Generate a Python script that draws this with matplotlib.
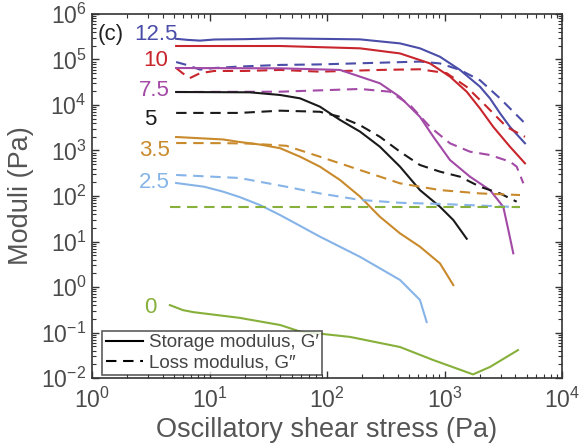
import matplotlib
matplotlib.use("Agg")
import matplotlib.pyplot as plt
from matplotlib.lines import Line2D
from matplotlib.ticker import LogLocator, NullFormatter
import numpy as np

plt.rcParams['font.family'] = ['Liberation Sans', 'DejaVu Sans']
plt.rcParams['mathtext.fontset'] = 'custom'
plt.rcParams['mathtext.rm'] = 'Liberation Sans'
plt.rcParams['mathtext.it'] = 'Liberation Sans:italic'

# ---- data (stress in Pa, moduli in Pa) ----
x125_g1 = [5.2, 6.5, 8.3, 11, 20, 40, 191, 418, 618, 915, 1354, 2004, 2438, 2966, 3608, 4840]
y125_g1 = [2.85e5, 2.7e5, 2.6e5, 2.75e5, 2.8e5, 2.92e5, 2.77e5, 2.26e5, 1.76e5, 1.15e5,
           5.9e4, 2.53e4, 1.4e4, 6.6e3, 3.3e3, 1.44e3]
x125_g2 = [5.2, 6.5, 8.3, 11, 18, 40, 87, 282, 618, 915, 1354, 2004, 2966, 4840]
y125_g2 = [8.8e4, 7.5e4, 6.0e4, 6.5e4, 7.0e4, 7.6e4, 7.8e4, 8.5e4, 9.0e4, 8.2e4,
           5.9e4, 3.5e4, 1.4e4, 3.95e3]

x10_g1 = [5.2, 40, 191, 418, 753, 1113, 1545, 2004, 2602, 3608, 4840]
y10_g1 = [1.98e5, 1.98e5, 1.76e5, 1.36e5, 8.2e4, 4.2e4, 1.96e4, 8.4e3, 3.3e3, 1.21e3, 523]
x10_g2 = [5.2, 5.9, 6.8, 8.3, 11, 20, 40, 87, 282, 618, 1044, 1545, 2285, 3378, 4840]
y10_g2 = [6.5e4, 5.0e4, 3.9e4, 5.0e4, 5.6e4, 5.6e4, 5.9e4, 5.4e4, 5.9e4, 6.1e4,
          5.0e4, 2.5e4, 9.2e3, 3.3e3, 2.0e3]

x75_g1 = [5.2, 40, 129, 282, 418, 618, 804, 1113, 1647, 2438, 3164, 3494, 3850]
y75_g1 = [6.5e4, 6.4e4, 5.9e4, 3.0e4, 1.5e4, 5.5e3, 2.0e3, 618, 266, 135, 58, 17.9, 5.5]
x75_g2 = [5.2, 40, 191, 344, 508, 753, 1113, 1647, 2438, 3608, 4114, 4690]
y75_g2 = [1.93e4, 1.96e4, 2.25e4, 1.96e4, 1.0e4, 3.3e3, 1.44e3, 942, 796, 569, 442, 190]

x5_g1 = [5.2, 22, 40, 59, 87, 129, 191, 282, 418, 618, 915, 1189, 1545]
y5_g1 = [1.93e4, 1.9e4, 1.66e4, 1.4e4, 9.2e3, 4.7e3, 2.6e3, 1.21e3, 442, 135, 58, 29.6, 11.5]
x5_g2 = [5.2, 18, 40, 87, 129, 191, 282, 418, 618, 915, 1354, 2004, 2966, 4114]
y5_g2 = [6.7e3, 6.7e3, 7.5e3, 7.1e3, 5.5e3, 3.6e3, 2.0e3, 942, 480, 343, 266, 160, 114, 75]

x35_g1 = [5.2, 13, 18, 27, 40, 59, 87, 129, 191, 282, 418, 618, 915, 1189]
y35_g1 = [1.98e3, 1.75e3, 1.54e3, 1.35e3, 1.12e3, 731, 442, 225, 97, 35, 15.1, 7.7, 3.3, 1.1]
x35_g2 = [5.2, 13, 22, 45, 87, 191, 418, 915, 2004, 4390]
y35_g2 = [1.46e3, 1.45e3, 1.42e3, 1.27e3, 731, 372, 190, 135, 114, 105]

x25_g1 = [5.2, 9, 13, 18, 27, 40, 87, 191, 418, 618, 705]
y25_g1 = [193, 160, 125, 95, 63, 38, 12.8, 4.6, 1.43, 0.52, 0.17]
x25_g2 = [5.2, 18, 45, 87, 191, 418, 915, 4250]
y25_g2 = [290, 249, 160, 114, 82, 71, 67, 57]

x0_g1 = [4.6, 5.95, 7.3, 18, 40, 59, 157, 418, 796, 1750, 2438, 4220]
y0_g1 = [0.40, 0.31, 0.28, 0.21, 0.146, 0.105, 0.080, 0.048, 0.025, 0.012, 0.0175, 0.041]
x0_g2 = [4.6, 4390]
y0_g2 = [57, 57]

labels = ['12.5', '10', '7.5', '5', '3.5', '2.5', '0']
colors = ['#4a4ea8', '#c9252c', '#a24aa6', '#1a1a1a', '#c98a2c', '#86b4e8', '#86b03a']
storage_x = [x125_g1, x10_g1, x75_g1, x5_g1, x35_g1, x25_g1, x0_g1]
storage_y = [y125_g1, y10_g1, y75_g1, y5_g1, y35_g1, y25_g1, y0_g1]
loss_x = [x125_g2, x10_g2, x75_g2, x5_g2, x35_g2, x25_g2, x0_g2]
loss_y = [y125_g2, y10_g2, y75_g2, y5_g2, y35_g2, y25_g2, y0_g2]

fig = plt.figure(figsize=(5.84, 4.48), dpi=100)
ax = fig.add_axes([92 / 584, 70 / 448, 470 / 584, 364 / 448])

dash = (0, (5, 3.2))
for xs, ys, xl, yl, c in zip(storage_x, storage_y, loss_x, loss_y, colors):
    ax.plot(xl, yl, color=c, lw=1.5, ls=dash)
    ax.plot(xs, ys, color=c, lw=1.5)

ax.set_xscale('log')
ax.set_yscale('log')
ax.set_xlim(1, 1e4)
ax.set_ylim(1e-2, 1e6)
ax.xaxis.set_major_locator(LogLocator(base=10, numticks=10))
ax.yaxis.set_major_locator(LogLocator(base=10, numticks=20))
ax.xaxis.set_minor_locator(LogLocator(base=10, subs=np.arange(2, 10), numticks=50))
ax.yaxis.set_minor_locator(LogLocator(base=10, subs=np.arange(2, 10), numticks=50))
ax.xaxis.set_minor_formatter(NullFormatter())
ax.yaxis.set_minor_formatter(NullFormatter())
ax.tick_params(which='both', direction='in', top=True, right=True, colors='#333333',
               labelcolor='#4a4a4a')
ax.tick_params(which='major', length=5, width=1, labelsize=16.5)
ax.tick_params(axis='x', which='major', pad=7)
ax.tick_params(axis='y', which='major', pad=4)
ax.tick_params(which='minor', length=3, width=0.8)
for s in ax.spines.values():
    s.set_color('#333333')
    s.set_linewidth(1.2)

ax.set_xlabel('Oscillatory shear stress (Pa)', fontsize=19.5, color='#555555', labelpad=3)
ax.set_ylabel('Moduli (Pa)', fontsize=19.5, color='#555555', labelpad=5)

ax.text(0.011, 0.945, '(c)', transform=ax.transAxes, fontsize=16, color='#222222',
        va='center', ha='left')
label_pos = [(0.183, 0.945), (0.162, 0.872), (0.166, 0.79), (0.138, 0.71),
             (0.166, 0.625), (0.166, 0.537), (0.138, 0.193)]
for lab, c, (lx, ly) in zip(labels, colors, label_pos):
    ax.text(lx, ly, lab, transform=ax.transAxes, fontsize=16, color=c,
            va='center', ha='right')

handles = [Line2D([], [], color='black', lw=1.5),
           Line2D([], [], color='black', lw=1.5, ls=dash)]
leg = ax.legend(handles, ['Storage modulus, G\u2032', 'Loss modulus, G\u2033'],
                loc='lower left', bbox_to_anchor=(0.021, 0.008), fontsize=13.5,
                frameon=True, fancybox=False, edgecolor='#333333',
                handlelength=2.0, handletextpad=0.3, borderpad=0.2,
                labelspacing=0.15, borderaxespad=0.0)
leg.get_frame().set_linewidth(1.2)
for t in leg.get_texts():
    t.set_color('#444444')

fig.savefig('out.png', dpi=100)
